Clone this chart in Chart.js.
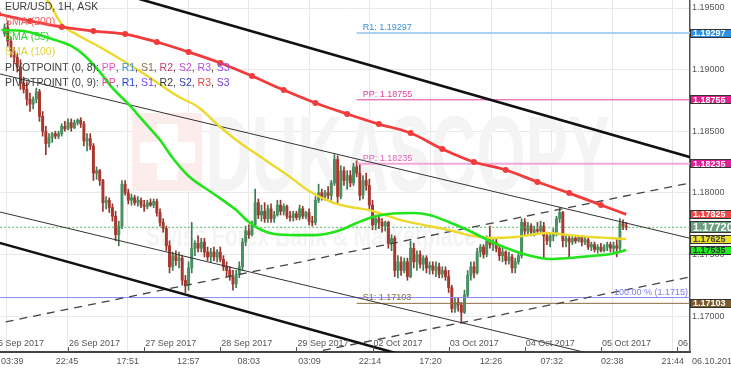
<!DOCTYPE html>
<html><head><meta charset="utf-8">
<script src="https://cdn.jsdelivr.net/npm/chart.js@4.4.0/dist/chart.umd.min.js"></script>
<style>html,body{margin:0;padding:0;background:#fff;overflow:hidden}#wrap{width:731px;height:372px}</style>
</head><body><div id="wrap"><canvas id="c" width="731" height="372"></canvas></div>
<script>
const FONT = "'Liberation Sans Narrow','Liberation Sans',Arial,sans-serif";

// ---- DATA ----
const FIRST_BAR = 4; // bar hour index (trading hours since 25 Sep 2017 00:00)
const opens = [
1.1929,1.1934,1.1923,1.1915,1.1910,1.1902,1.1889,1.1884,1.1876,1.1872,
1.1876,1.1882,1.1862,1.1850,1.1840,1.1845,1.1848,1.1846,1.1848,1.1854,
1.1852,1.1857,1.1853,1.1857,1.1859,1.1856,1.1842,1.1844,1.1838,1.1816,
1.1818,1.1810,1.1792,1.1794,1.1788,1.1781,1.1766,1.1773,1.1807,1.1800,
1.1794,1.1796,1.1792,1.1794,1.1790,1.1789,1.1792,1.1790,1.1793,1.1784,
1.1776,1.1771,1.1757,1.1740,1.1749,1.1745,1.1747,1.1729,1.1725,1.1739,
1.1755,1.1759,1.1755,1.1760,1.1752,1.1748,1.1752,1.1748,1.1752,1.1746,
1.1740,1.1737,1.1732,1.1726,1.1734,1.1740,1.1760,1.1769,1.1766,1.1774,
1.1792,1.1782,1.1785,1.1779,1.1787,1.1779,1.1782,1.1790,1.1785,1.1789,
1.1781,1.1780,1.1783,1.1780,1.1787,1.1781,1.1784,1.1777,1.1776,1.1794,
1.1800,1.1797,1.1800,1.1798,1.1808,1.1827,1.1797,1.1818,1.1810,1.1814,
1.1808,1.1821,1.1816,1.1798,1.1810,1.1806,1.1790,1.1774,1.1779,1.1776,
1.1773,1.1776,1.1759,1.1763,1.1737,1.1744,1.1737,1.1744,1.1732,1.1755,
1.1744,1.1750,1.1742,1.1747,1.1739,1.1741,1.1737,1.1740,1.1734,1.1737,
1.1732,1.1723,1.1706,1.1711,1.1709,1.1703,1.1717,1.1733,1.1740,1.1735,
1.1752,1.1756,1.1750,1.1761,1.1758,1.1760,1.1755,1.1749,1.1752,1.1745,
1.1748,1.1739,1.1744,1.1749,1.1776,1.1769,1.1773,1.1768,1.1770,1.1769,
1.1773,1.1765,1.1761,1.1765,1.1768,1.1779,1.1784,1.1761,1.1763,1.1760,
1.1763,1.1761,1.1764,1.1760,1.1762,1.1756,1.1758,1.1754,1.1756,1.1753,
1.1756,1.1758,1.1755,1.1757,1.1755,1.1775,1.1773];
const highs = [
1.1937,1.1939,1.1926,1.1918,1.1913,1.1908,1.1894,1.1890,1.1881,1.1878,
1.1885,1.1884,1.1866,1.1854,1.1848,1.1849,1.1850,1.1850,1.1856,1.1858,
1.1860,1.1860,1.1859,1.1860,1.1861,1.1858,1.1848,1.1848,1.1840,1.1821,
1.1819,1.1811,1.1797,1.1796,1.1791,1.1785,1.1777,1.1810,1.1810,1.1803,
1.1799,1.1798,1.1797,1.1796,1.1794,1.1794,1.1795,1.1795,1.1795,1.1787,
1.1779,1.1773,1.1761,1.1752,1.1753,1.1752,1.1749,1.1733,1.1744,1.1776,
1.1761,1.1765,1.1763,1.1763,1.1756,1.1755,1.1756,1.1754,1.1756,1.1749,
1.1744,1.1740,1.1737,1.1737,1.1744,1.1763,1.1773,1.1774,1.1777,1.1803,
1.1795,1.1790,1.1792,1.1790,1.1791,1.1785,1.1794,1.1794,1.1791,1.1790,
1.1785,1.1785,1.1785,1.1790,1.1789,1.1785,1.1787,1.1781,1.1797,1.1807,
1.1803,1.1802,1.1805,1.1810,1.1831,1.1830,1.1822,1.1821,1.1818,1.1818,
1.1824,1.1826,1.1824,1.1814,1.1816,1.1811,1.1794,1.1782,1.1782,1.1779,
1.1777,1.1777,1.1766,1.1765,1.1749,1.1748,1.1747,1.1747,1.1761,1.1759,
1.1753,1.1753,1.1749,1.1749,1.1744,1.1744,1.1744,1.1743,1.1740,1.1740,
1.1737,1.1725,1.1715,1.1715,1.1711,1.1721,1.1737,1.1744,1.1744,1.1755,
1.1758,1.1758,1.1765,1.1773,1.1763,1.1763,1.1758,1.1755,1.1753,1.1752,
1.1750,1.1747,1.1752,1.1779,1.1779,1.1776,1.1775,1.1773,1.1776,1.1777,
1.1776,1.1768,1.1767,1.1771,1.1781,1.1788,1.1785,1.1766,1.1765,1.1765,
1.1765,1.1765,1.1765,1.1764,1.1764,1.1760,1.1760,1.1758,1.1759,1.1758,
1.1760,1.1760,1.1760,1.1763,1.1779,1.1778,1.1776];
const lows = [
1.1927,1.1919,1.1910,1.1905,1.1898,1.1884,1.1881,1.1871,1.1866,1.1868,
1.1873,1.1858,1.1846,1.1831,1.1837,1.1841,1.1844,1.1844,1.1846,1.1850,
1.1851,1.1850,1.1852,1.1855,1.1853,1.1838,1.1834,1.1835,1.1810,1.1811,
1.1806,1.1785,1.1787,1.1784,1.1777,1.1761,1.1757,1.1771,1.1798,1.1791,
1.1790,1.1790,1.1789,1.1788,1.1785,1.1787,1.1789,1.1788,1.1781,1.1773,
1.1768,1.1753,1.1735,1.1737,1.1741,1.1739,1.1725,1.1719,1.1721,1.1735,
1.1749,1.1752,1.1752,1.1748,1.1745,1.1744,1.1745,1.1744,1.1744,1.1737,
1.1732,1.1729,1.1721,1.1723,1.1731,1.1737,1.1757,1.1763,1.1765,1.1773,
1.1779,1.1777,1.1776,1.1776,1.1776,1.1776,1.1781,1.1782,1.1782,1.1779,
1.1777,1.1777,1.1778,1.1778,1.1779,1.1779,1.1774,1.1773,1.1774,1.1792,
1.1794,1.1794,1.1795,1.1794,1.1806,1.1792,1.1795,1.1806,1.1803,1.1805,
1.1806,1.1813,1.1794,1.1795,1.1802,1.1787,1.1770,1.1770,1.1771,1.1768,
1.1769,1.1755,1.1753,1.1732,1.1731,1.1733,1.1735,1.1729,1.1731,1.1739,
1.1737,1.1739,1.1737,1.1735,1.1734,1.1734,1.1732,1.1731,1.1731,1.1729,
1.1719,1.1703,1.1703,1.1704,1.1695,1.1702,1.1715,1.1729,1.1731,1.1734,
1.1748,1.1747,1.1748,1.1755,1.1753,1.1752,1.1745,1.1744,1.1742,1.1742,
1.1735,1.1735,1.1742,1.1747,1.1766,1.1765,1.1765,1.1765,1.1766,1.1767,
1.1747,1.1758,1.1756,1.1761,1.1765,1.1776,1.1756,1.1756,1.1748,1.1758,
1.1759,1.1760,1.1757,1.1758,1.1754,1.1753,1.1752,1.1751,1.1752,1.1752,
1.1753,1.1752,1.1752,1.1748,1.1752,1.1770,1.1770];
const closes = [
1.1934,1.1923,1.1915,1.1910,1.1902,1.1889,1.1884,1.1876,1.1872,1.1876,
1.1882,1.1862,1.1850,1.1840,1.1845,1.1848,1.1846,1.1848,1.1854,1.1852,
1.1857,1.1853,1.1857,1.1859,1.1856,1.1842,1.1844,1.1838,1.1816,1.1818,
1.1810,1.1792,1.1794,1.1788,1.1781,1.1766,1.1773,1.1807,1.1800,1.1794,
1.1796,1.1792,1.1794,1.1790,1.1789,1.1792,1.1790,1.1793,1.1784,1.1776,
1.1771,1.1757,1.1740,1.1749,1.1745,1.1747,1.1729,1.1725,1.1739,1.1755,
1.1759,1.1755,1.1760,1.1752,1.1748,1.1752,1.1748,1.1752,1.1746,1.1740,
1.1737,1.1732,1.1726,1.1734,1.1740,1.1760,1.1769,1.1766,1.1774,1.1792,
1.1782,1.1785,1.1779,1.1787,1.1779,1.1782,1.1790,1.1785,1.1789,1.1781,
1.1780,1.1783,1.1780,1.1787,1.1781,1.1784,1.1777,1.1776,1.1794,1.1800,
1.1797,1.1800,1.1798,1.1808,1.1827,1.1797,1.1818,1.1810,1.1814,1.1808,
1.1821,1.1816,1.1798,1.1810,1.1806,1.1790,1.1774,1.1779,1.1776,1.1773,
1.1776,1.1759,1.1763,1.1737,1.1744,1.1737,1.1744,1.1732,1.1755,1.1744,
1.1750,1.1742,1.1747,1.1739,1.1741,1.1737,1.1740,1.1734,1.1737,1.1732,
1.1723,1.1706,1.1711,1.1709,1.1703,1.1717,1.1733,1.1740,1.1735,1.1752,
1.1756,1.1750,1.1761,1.1758,1.1760,1.1755,1.1749,1.1752,1.1745,1.1748,
1.1739,1.1744,1.1749,1.1776,1.1769,1.1773,1.1768,1.1770,1.1769,1.1773,
1.1765,1.1761,1.1765,1.1768,1.1779,1.1784,1.1761,1.1763,1.1760,1.1763,
1.1761,1.1764,1.1760,1.1762,1.1756,1.1758,1.1754,1.1756,1.1753,1.1756,
1.1758,1.1755,1.1757,1.1755,1.1775,1.1773,1.1772];

const sma200Idx = [2,12,22,32,42,52,62,72,82,92,102,112,122,132,142,152,162,172,182,192,200];
const sma200 = [1.19451,1.19395,1.19346,1.19313,1.19289,1.19224,1.19143,1.19054,1.18948,1.18834,1.18729,1.18640,1.18558,1.18485,1.18356,1.18250,1.18185,1.18088,1.17998,1.17901,1.17825];
const sma55Idx = [3,10,18,25,29,34,38,43,48,53,57,62,70,77,81,85,89,96,102,109,115,120,125,133,138,144,150,157,163,170,176,182,189,195,200];
const sma55 = [1.19321,1.19313,1.19256,1.19192,1.19119,1.18981,1.18851,1.18721,1.18575,1.18429,1.18282,1.18136,1.17990,1.17860,1.17763,1.17698,1.17666,1.17657,1.17657,1.17690,1.17755,1.17804,1.17828,1.17836,1.17820,1.17763,1.17698,1.17609,1.17544,1.17487,1.17463,1.17471,1.17487,1.17503,1.17535];
const sma100Idx = [16,18,22,27,34,42,50,59,65,72,77,82,88,94,100,107,113,119,124,129,136,144,152,158,165,175,182,189,195,200];
const sma100 = [1.19606,1.19541,1.19370,1.19281,1.19184,1.19062,1.18932,1.18778,1.18697,1.18534,1.18429,1.18339,1.18234,1.18128,1.18015,1.17925,1.17885,1.17860,1.17820,1.17779,1.17739,1.17698,1.17649,1.17633,1.17641,1.17674,1.17657,1.17641,1.17633,1.17625];

// trend lines: [startIdx, startPrice, endIdx, endPrice]
const channelThick = [[40,1.19621,225,1.18254],[0,1.17611,130,1.16680]];
const channelThin = [[0,1.18980,225,1.17601],[0,1.17860,210,1.16563]];
const channelDashed = [[0,1.16930,225,1.18106],[100,1.16698,225,1.17342]];

const pivotNames = ['R1','PP','PP','S1'];
const pivotValues = [1.19297,1.18755,1.18235,1.17103];
const pivotStartIdx = 115;
const fiboValue = 1.1715;
const fiboLabel = '100.00 % (1.1715)';
const lastPrice = 1.17720;

const tagValues = [1.19297,1.18755,1.18235,1.17825,1.17720,1.17625,1.17535,1.17103];
const yTickValues = [1.170,1.175,1.180,1.185,1.190,1.195];

const timeTickLabels = ['03:39','22:45','17:51','12:57','08:03','03:09','22:14','17:20','12:26','07:32','02:38','21:44'];
const timeTickDay = [0,0,1,2,3,4,4,5,6,7,8,8];
const dateLabels = ['25 Sep 2017','26 Sep 2017','27 Sep 2017','28 Sep 2017','29 Sep 2017','02 Oct 2017','03 Oct 2017','04 Oct 2017','05 Oct 2017','06 Oct 2017'];
const axisEndLabel = '06.10.2017';

// ---- STYLE ----
const UP='#4a8f61', DOWN='#a8382d', UPW='#3c7a52', DOWNW='#96322a';
const pivotLineColors=['#a9d1f2','#e4409a','#f2a6dc','#8b6c3a'];
const pivotTextColors=['#3a8fe0','#e0409a','#e060b8','#8b6c3a'];
const tagStyles=[['#2e8fe6','#fff'],['#df1f8b','#fff'],['#df1f99','#fff'],['#f04646','#fff'],['#6f9f82','#fff'],['#ece12c','#444'],['#22ec22','#333'],['#7b5b2c','#fff']];
const TIME_SHIFT = 0.95;

const barIdx = opens.map((o,k)=>FIRST_BAR+k);
const isUp = k => closes[k] >= opens[k];
const wickData = barIdx.map((x,k)=>({x, y:[lows[k],highs[k]]}));
const bodyData = barIdx.map((x,k)=>({x, y:[opens[k],closes[k]]}));
const seg = s => [{x:s[0],y:s[1]},{x:s[2],y:s[3]}];
const timeTickPos = timeTickLabels.map((t,k)=>{const [h,m]=t.split(':').map(Number);return timeTickDay[k]*24+h+m/60+TIME_SHIFT;});

const lineDS = (data,color,width,order,extra={}) => Object.assign({type:'line',data,borderColor:color,borderWidth:width,pointRadius:0,fill:false,order,tension:0},extra);

const datasets = [
  {type:'bar',data:wickData,backgroundColor:barIdx.map((x,k)=>isUp(k)?UPW:DOWNW),barThickness:1,grouped:false,order:20},
  {type:'bar',data:bodyData,backgroundColor:barIdx.map((x,k)=>isUp(k)?UP:DOWN),barThickness:2.3,grouped:false,minBarLength:1,order:19},
  lineDS([{x:-10,y:fiboValue},{x:240,y:fiboValue}],'#8a8af2',1,15),
  lineDS([{x:-10,y:lastPrice},{x:240,y:lastPrice}],'#59b86a',1,15,{borderDash:[2,2]}),
  ...pivotValues.map((v,k)=>lineDS([{x:pivotStartIdx,y:v},{x:240,y:v}],pivotLineColors[k],k===0||k===2?2:1,14)),
  ...channelThin.map(s=>lineDS(seg(s),'#333',1,9)),
  ...channelDashed.map(s=>lineDS(seg(s),'#444',1.3,9,{borderDash:[8,6]})),
  ...channelThick.map(s=>lineDS(seg(s),'#111',2.6,8)),
  lineDS(sma100Idx.map((x,k)=>({x,y:sma100[k]})),'#ecd92c',2.4,3,{cubicInterpolationMode:'monotone'}),
  lineDS(sma55Idx.map((x,k)=>({x,y:sma55[k]})),'#22e41c',2.6,2,{cubicInterpolationMode:'monotone'}),
  lineDS(sma200Idx.map((x,k)=>({x,y:sma200[k]})),'#f23b3b',2.8,1,{cubicInterpolationMode:'monotone',
     pointRadius:c=>c.dataIndex===sma200Idx.length-1?0:3,pointBackgroundColor:'#f23b3b',pointBorderWidth:0})
];

function T(ctx,s,x,y,color,font,align,base){ctx.fillStyle=color;ctx.font=font;ctx.textAlign=align||'left';ctx.textBaseline=base||'middle';ctx.fillText(s,x,y);}

const decor = {
  id:'decor',
  beforeDatasetsDraw(chart){
    const ctx=chart.ctx, ca=chart.chartArea;
    ctx.save(); ctx.beginPath(); ctx.rect(ca.left,ca.top,ca.width,ca.height); ctx.clip();
    ctx.fillStyle='#fcedec'; ctx.fillRect(132,113,70,78);
    ctx.fillStyle='#ffffff'; ctx.fillRect(157,124,21,56); ctx.fillRect(140,142,55,21);
    ctx.font='bold 100px '+FONT; ctx.textAlign='left'; ctx.textBaseline='alphabetic';
    let w=ctx.measureText('DUKASCOPY').width;
    ctx.save(); ctx.translate(206,191); ctx.scale(404/w,78/72); ctx.fillStyle='#f4f4f4'; ctx.fillText('DUKASCOPY',0,0); ctx.restore();
    ctx.font='bold 40px '+FONT; w=ctx.measureText('Swiss Forex Bank & Marketplace').width;
    ctx.save(); ctx.translate(146,246); ctx.scale(330/w,22/29); ctx.fillStyle='#f4f4f4'; ctx.fillText('Swiss Forex Bank & Marketplace',0,0); ctx.restore();
    ctx.restore();
  },
  afterDatasetsDraw(chart){
    const ctx=chart.ctx, ca=chart.chartArea, xs=chart.scales.x, ys=chart.scales.y;
    ctx.save(); ctx.beginPath(); ctx.rect(ca.left,ca.top,ca.width,ca.height); ctx.clip();
    const f9='9px '+FONT;
    dateLabels.forEach((d,k)=>{const x=xs.getPixelForValue(k*24);
      ctx.strokeStyle='#555'; ctx.lineWidth=1; ctx.beginPath(); ctx.moveTo(Math.round(x)+0.5,347); ctx.lineTo(Math.round(x)+0.5,352); ctx.stroke();
      T(ctx,d,x+1,343.5,'#555',f9);});
    pivotValues.forEach((v,k)=>{const y=ys.getPixelForValue(v); T(ctx,pivotNames[k]+': '+v.toFixed(5),xs.getPixelForValue(pivotStartIdx)+6,y-1,pivotTextColors[k],f9,'left','bottom');});
    T(ctx,fiboLabel,ca.right-2,ys.getPixelForValue(fiboValue)-1,'#7b7bf0',f9,'right','bottom');
    ctx.restore();
    ctx.save();
    const lf='10.5px '+FONT; let y=7;
    const lines=[
      [['EUR/USD, 1H, ASK','#404040']],
      [['SMA (200)','#f56060']],
      [['SMA (55)','#2ad82a']],
      [['SMA (100)','#e2d23a']],
      [['PIVOTPOINT (0, 8): ','#404040'],['PP','#f050c8'],[', ','#404040'],['R1','#3d8fe0'],[', ','#404040'],['S1','#8a6a40'],[', ','#404040'],['R2','#c0406a'],[', ','#404040'],['S2','#c050d0'],[', ','#404040'],['R3','#b050e0'],[', ','#404040'],['S3','#9a4af0']],
      [['PIVOTPOINT (0, 9): ','#404040'],['PP','#f0409a'],[', ','#404040'],['R1','#2040f0'],[', ','#404040'],['S1','#7040f0'],[', ','#404040'],['R2','#333333'],[', ','#404040'],['S2','#3040b0'],[', ','#404040'],['R3','#f04040'],[', ','#404040'],['S3','#8040e0']]
    ];
    ctx.font=lf;
    lines.forEach(parts=>{let x=5; parts.forEach(([s,c])=>{T(ctx,s,x,y,c,lf); x+=ctx.measureText(s).width;}); y+=15.2;});
    ctx.restore();
  },
  afterDraw(chart){
    const ctx=chart.ctx, ca=chart.chartArea, xs=chart.scales.x, ys=chart.scales.y;
    ctx.save();
    const f9='9px '+FONT;
    ctx.font=f9;
    yTickValues.forEach(v=>T(ctx,v.toFixed(5),ca.right+2,ys.getPixelForValue(v),'#555',f9,'left'));
    timeTickLabels.forEach((t,k)=>{let x=xs.getPixelForValue(timeTickPos[k]); const w=ctx.measureText(t).width; if(x-w/2<1)x=1+w/2; T(ctx,t,x,362,'#555',f9,'center');});
    T(ctx,axisEndLabel,ca.right+2,362,'#555',f9,'left');
    tagValues.forEach((v,k)=>{const y=ys.getPixelForValue(v); const big=(v===lastPrice); const h=big?12:9;
      ctx.fillStyle=tagStyles[k][0]; ctx.fillRect(ca.right,Math.round(y-h/2),42,h);
      ctx.strokeStyle='#333'; ctx.lineWidth=1; ctx.strokeRect(ca.right+0.5,Math.round(y-h/2)+0.5,42,h-1);
      T(ctx,v.toFixed(5),ca.right+3,y+0.5,tagStyles[k][1],(big?'bold 11px ':'bold 9px ')+FONT,'left');});
    ctx.restore();
  }
};

new Chart(document.getElementById('c'),{
  type:'bar',
  data:{datasets},
  options:{
    responsive:false,animation:false,events:[],
    layout:{padding:0,autoPadding:false},
    plugins:{legend:{display:false},tooltip:{enabled:false}},
    scales:{
      x:{type:'linear',min:2.55,max:220.1,offset:false,
         grid:{color:'#e8e8e8',offset:false,drawTicks:false},
         border:{color:'#444',width:2},
         ticks:{display:false},
         afterBuildTicks:s=>{s.ticks=timeTickPos.map(v=>({value:v}));},
         afterFit:s=>{s.height=20;s.paddingLeft=0;s.paddingRight=0;}},
      y:{type:'linear',position:'right',min:1.16708,max:1.19565,
         grid:{color:'#e8e8e8',drawTicks:false},
         border:{color:'#555',width:1.5},
         ticks:{display:false},
         afterBuildTicks:s=>{s.ticks=yTickValues.map(v=>({value:v}));},
         afterFit:s=>{s.width=41;s.paddingTop=0;s.paddingBottom=0;}}
    }
  },
  plugins:[decor]
});
</script></body></html>
